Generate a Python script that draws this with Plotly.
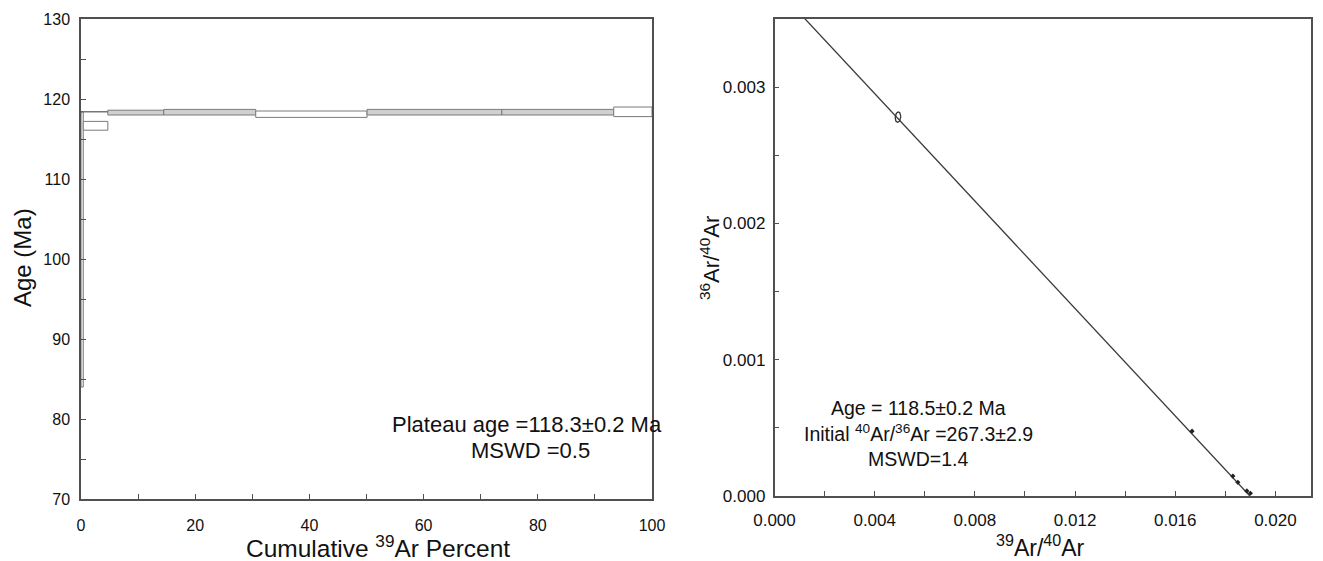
import numpy as np
import plotly.graph_objects as go

# ---- Left panel: age spectrum steps ----
cum_start = [0.0, 0.4, 4.7, 14.5, 30.6, 50.1, 73.7, 93.3]
cum_end = [0.4, 4.7, 14.5, 30.6, 50.1, 73.7, 93.3, 100.0]
step_age = [101.2, 116.65, 118.3, 118.35, 118.1, 118.35, 118.35, 118.4]
step_err = [17.2, 0.55, 0.3, 0.35, 0.4, 0.35, 0.35, 0.6]
step_fill = ["#f2f2f2", "#ffffff", "#d0d0d0", "#d0d0d0", "#ffffff", "#d0d0d0", "#d0d0d0", "#ffffff"]
ref_line_x = [0.0, 4.7]
ref_line_y = [118.4, 118.4]

plateau_text = ["Plateau age =118.3±0.2 Ma", "MSWD =0.5"]

# ---- Right panel: inverse isochron ----
initial_ratio = 267.3
x_intercept = 0.01898
pt_x = [0.01667, 0.0183, 0.0185, 0.01886, 0.0190]
pt_y = [0.000476, 0.000146, 0.0001, 0.000037, 0.00002]
ell_cx, ell_cy = 0.00493, 0.00278
ell_rx, ell_ry = 0.00011, 0.000037

iso_text = ["Age = 118.5±0.2 Ma",
            "Initial <sup>40</sup>Ar/<sup>36</sup>Ar =267.3±2.9",
            "MSWD=1.4"]

OFF = 8  # page body margin
W, H = 1323 - OFF, 561 - OFF
FONT = "Arial, Liberation Sans, sans-serif"
AX = "#505050"

fig = go.Figure()

for s, e, a, r, fc in zip(cum_start, cum_end, step_age, step_err, step_fill):
    fig.add_trace(go.Scatter(
        x=[s, e, e, s, s], y=[a - r, a - r, a + r, a + r, a - r],
        mode="lines", fill="toself", fillcolor=fc,
        line=dict(color="#7a7a7a", width=1), xaxis="x", yaxis="y",
        showlegend=False, hoverinfo="skip"))
fig.add_trace(go.Scatter(x=ref_line_x, y=ref_line_y, mode="lines",
                         line=dict(color="#555555", width=1.2),
                         xaxis="x", yaxis="y", showlegend=False))

# isochron line
line_x = [0.0, x_intercept]
line_y = [1.0 / initial_ratio, 0.0]
fig.add_trace(go.Scatter(x=line_x, y=line_y, mode="lines",
                         line=dict(color="#3a3a3a", width=1.3),
                         xaxis="x2", yaxis="y2", showlegend=False))
t = np.linspace(0, 2 * np.pi, 60)
ex = ell_cx + ell_rx * np.cos(t)
ey = ell_cy + ell_ry * np.sin(t) + ell_ry * 0.15 * np.cos(t)
fig.add_trace(go.Scatter(x=ex, y=ey, mode="lines",
                         line=dict(color="#333333", width=1.3),
                         xaxis="x2", yaxis="y2", showlegend=False))
fig.add_trace(go.Scatter(x=pt_x, y=pt_y, mode="markers",
                         marker=dict(color="#222222", size=4, symbol="diamond"),
                         xaxis="x2", yaxis="y2", showlegend=False))

def pxx(p):
    return (p - OFF) / W

def pxy(p):
    return 1 - (p - OFF) / H

def common(size):
    return dict(showgrid=False, zeroline=False, showline=True, linecolor=AX,
                linewidth=1.5, mirror=True, ticks="inside", ticklen=5,
                tickcolor=AX, tickwidth=1.3, automargin=False,
                tickfont=dict(family=FONT, size=size, color="#111"))

fig.update_layout(
    width=W, height=H, margin=dict(l=0, r=0, t=0, b=0, autoexpand=False),
    paper_bgcolor="white", plot_bgcolor="white",
    xaxis=dict(domain=[pxx(81), pxx(652)], range=[0, 100], dtick=20,
               minor=dict(dtick=10, ticks="inside", ticklen=5, tickcolor=AX),
               anchor="y", ticklabelstandoff=11, **common(16)),
    yaxis=dict(domain=[pxy(499), pxy(19)], range=[70, 130], dtick=10,
               minor=dict(dtick=5, ticks="inside", ticklen=5, tickcolor=AX),
               anchor="x", ticklabelstandoff=6, **common(16)),
    xaxis2=dict(domain=[pxx(774.5), pxx(1311)], range=[0, 0.02142], dtick=0.004,
                tickformat=".3f",
                minor=dict(dtick=0.002, ticks="inside", ticklen=5, tickcolor=AX),
                anchor="y2", ticklabelstandoff=8, **common(17)),
    yaxis2=dict(domain=[pxy(496), pxy(19)], range=[0, 0.0035], dtick=0.001,
                tickformat=".3f",
                minor=dict(dtick=0.0005, ticks="inside", ticklen=5, tickcolor=AX),
                anchor="x2", ticklabelstandoff=4, **common(17)),
)

anns = []
def txt(x, y, s, size, angle=0):
    anns.append(dict(x=pxx(x), y=pxy(y), xref="paper", yref="paper", text=s,
                     showarrow=False, textangle=angle, xanchor="center",
                     yanchor="middle",
                     font=dict(family=FONT, size=size, color="#111")))

txt(527, 424, plateau_text[0], 22)
txt(530, 450, plateau_text[1], 22)
for i, s in enumerate(iso_text):
    txt(918, 408 + 25.5 * i, s, 19.5)

txt(22, 258, "Age (Ma)", 24, -90)
txt(378, 546, "Cumulative <sup>39</sup>Ar Percent", 24.5)
txt(710, 258, "<sup>36</sup>Ar/<sup>40</sup>Ar", 22, -90)
txt(1040, 546, "<sup>39</sup>Ar/<sup>40</sup>Ar", 23)

fig.update_layout(annotations=anns)
fig.write_html("out.html")
